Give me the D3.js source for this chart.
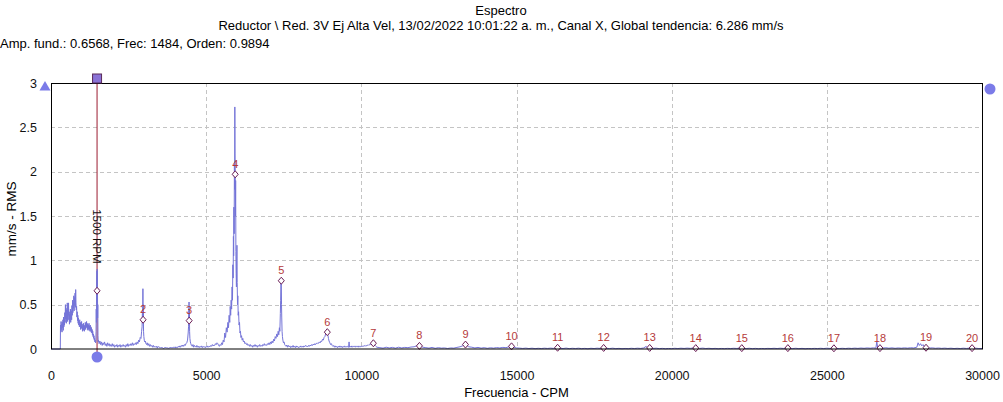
<!DOCTYPE html>
<html>
<head>
<meta charset="utf-8">
<script src="https://d3js.org/d3.v7.min.js"></script>
<style>
  body { margin: 0; background: #fff; }
  svg { font-family: 'Liberation Sans', Arial, sans-serif; }
  .grid line { stroke: #c4c4c4; stroke-dasharray: 4,3; shape-rendering: crispEdges; }
  .axis text { font-size: 12.5px; fill: #111; }
  .axis path, .axis line { display: none; }
  .hlabel { font-size: 11px; fill: #b53a3a; text-anchor: middle; }
</style>
</head>
<body>
<script>
const titleLines = ['Espectro', 'Reductor \\ Red. 3V Ej Alta Vel, 13/02/2022 10:01:22 a. m., Canal X, Global tendencia: 6.286 mm/s']
const infoLine = 'Amp. fund.: 0.6568, Frec: 1484, Orden: 0.9894'
const xTitle = 'Frecuencia - CPM'
const yTitle = 'mm/s - RMS'
const xTicks = [0, 5000, 10000, 15000, 20000, 25000, 30000]
const yTicks = [0, 0.5, 1, 1.5, 2, 2.5, 3]
const cursorCpm = 1484
const cursorLabel = '1500 RPM'

// harmonic markers (order, CPM, amplitude read at the marker)
const harmonicOrder = [1, 2, 3, 4, 5, 6, 7, 8, 9, 10, 11, 12, 13, 14, 15, 16, 17, 18, 19, 20]
const harmonicCpm = [1484, 2968, 4452, 5936, 7420, 8904, 10388, 11872, 13356, 14840,
  16324, 17808, 19292, 20776, 22260, 23744, 25228, 26712, 28196, 29680]
const harmonicAmp = [0.6568, 0.33, 0.32, 1.97, 0.77, 0.19, 0.065, 0.035, 0.05, 0.03,
  0.014, 0.012, 0.012, 0.01, 0.01, 0.01, 0.008, 0.01, 0.014, 0.01]

// spectrum [CPM, mm/s RMS]
const spectrum = [
[0,0],[300,0],[306,0.27],[315,0.2],[325,0.31],[335,0.22],[345,0.28],[355,0.19],[365,0.3],[375,0.24],[385,0.33],[395,0.21],[405,0.36],[415,0.25],[425,0.32],[435,0.27],[445,0.41],[455,0.3],[465,0.5],[475,0.34],[485,0.46],[495,0.29],[505,0.44],[515,0.36],[525,0.52],[535,0.31],[545,0.47],[555,0.38],[565,0.52],[575,0.33],[585,0.42],[595,0.28],[605,0.39],[615,0.31],[625,0.45],[635,0.3],[645,0.37],[655,0.43],[665,0.33],[675,0.49],[685,0.38],[695,0.55],[705,0.41],[715,0.52],[725,0.46],[735,0.6],[745,0.43],[755,0.58],[765,0.5],[775,0.63],[785,0.47],[795,0.67],[805,0.52],[815,0.44],[825,0.48],[835,0.36],[845,0.42],[855,0.32],[865,0.38],[875,0.29],[885,0.35],[895,0.27],[905,0.31],[915,0.25],[925,0.33],[935,0.26],[945,0.3],[955,0.22],[965,0.29],[975,0.24],[985,0.31],[995,0.23],[1005,0.28],[1015,0.2],[1025,0.26],[1035,0.22],[1045,0.29],[1055,0.21],[1065,0.27],[1075,0.2],[1085,0.26],[1095,0.23],[1105,0.3],[1115,0.22],[1125,0.28],[1135,0.24],[1145,0.31],[1155,0.25],[1165,0.29],[1175,0.22],[1185,0.28],[1195,0.21],[1205,0.27],[1215,0.23],[1225,0.29],[1235,0.22],[1245,0.26],[1255,0.2],[1265,0.27],[1275,0.21],[1285,0.25],[1295,0.19],[1305,0.24],[1315,0.18],[1325,0.22],[1335,0.16],[1345,0.2],[1355,0.14],[1365,0.17],[1375,0.12],[1385,0.15],[1395,0.1],[1405,0.12],[1415,0.08],[1425,0.1],[1435,0.07],[1445,0.09],[1452,0.2],[1458,0.45],[1464,0.3],[1470,0.7],[1476,0.5],[1480,0.88],[1484,0.66],[1488,0.9],[1492,0.6],[1496,0.82],[1502,0.35],[1508,0.5],[1514,0.15],[1522,0.08],
[1530,0.1],[1550,0.06],[1575,0.09],[1600,0.05],[1625,0.08],[1650,0.04],[1675,0.07],[1700,0.05],[1725,0.08],[1750,0.04],[1775,0.06],[1800,0.03],[1825,0.07],[1850,0.04],[1875,0.06],[1900,0.03],[1925,0.05],[1950,0.03],[1975,0.06],[2000,0.03],[2025,0.05],[2050,0.02],[2075,0.04],[2100,0.03],[2125,0.05],[2150,0.02],[2175,0.04],[2200,0.03],[2225,0.05],[2250,0.02],[2275,0.04],[2300,0.03],[2325,0.05],[2350,0.03],[2375,0.04],[2400,0.02],[2425,0.05],[2450,0.03],[2475,0.06],[2500,0.03],[2525,0.05],[2550,0.04],[2575,0.06],[2600,0.04],[2625,0.07],[2650,0.04],[2675,0.06],[2700,0.05],[2725,0.07],[2750,0.05],[2775,0.08],[2800,0.06],[2825,0.1],[2850,0.08],[2875,0.13],[2900,0.12],[2920,0.2],[2935,0.25],[2945,0.4],[2955,0.3],[2962,0.68],[2968,0.33],[2974,0.5],[2982,0.2],[2992,0.14],[3005,0.1],[3020,0.08],[3040,0.09],[3060,0.06],
[3080,0.05],[3100,0.07],[3125,0.04],[3150,0.06],[3175,0.03],[3200,0.05],[3225,0.03],[3250,0.04],[3275,0.02],[3300,0.04],[3325,0.02],[3350,0.03],[3375,0.02],[3400,0.03],[3425,0.01],[3450,0.03],[3475,0.02],[3500,0.02],[3525,0.01],[3550,0.02],[3575,0.01],[3600,0.015],[3625,0.005],[3650,0.015],[3675,0.01],[3700,0.02],[3725,0.01],[3750,0.015],[3775,0.005],[3800,0.015],[3825,0.01],[3850,0.02],[3875,0.01],[3900,0.02],[3925,0.01],[3950,0.02],[3975,0.015],[4000,0.025],[4025,0.01],[4050,0.02],[4075,0.015],[4100,0.03],[4125,0.02],[4150,0.035],[4175,0.02],[4200,0.04],[4225,0.03],[4250,0.045],[4275,0.03],[4300,0.05],[4325,0.04],[4350,0.06],[4375,0.07],[4400,0.1],[4420,0.18],[4432,0.25],[4440,0.38],[4448,0.53],[4452,0.32],[4458,0.45],[4466,0.2],[4476,0.12],[4490,0.08],[4505,0.06],
[4525,0.04],[4550,0.03],[4575,0.05],[4600,0.02],[4625,0.04],[4650,0.03],[4675,0.02],[4700,0.04],[4725,0.02],[4750,0.03],[4775,0.015],[4800,0.03],[4825,0.02],[4850,0.035],[4875,0.015],[4900,0.03],[4925,0.02],[4950,0.025],[4975,0.015],[5000,0.03],[5025,0.02],[5050,0.035],[5075,0.02],[5100,0.03],[5125,0.025],[5150,0.04],[5175,0.03],[5200,0.05],[5225,0.035],[5250,0.045],[5275,0.04],[5300,0.06],[5325,0.05],[5350,0.07],[5375,0.06],
[5400,0.04],[5425,0.03],[5450,0.05],[5475,0.04],[5500,0.07],[5525,0.05],[5550,0.1],[5575,0.08],[5600,0.18],[5625,0.13],[5650,0.24],[5675,0.19],[5700,0.3],[5720,0.24],[5740,0.38],[5760,0.3],[5775,0.48],[5790,0.38],[5805,0.55],[5820,0.45],[5835,0.7],[5848,0.55],[5860,0.95],[5870,0.8],[5878,1.27],[5886,1.05],[5894,1.6],[5902,1.3],[5910,2.1],[5917,1.8],[5924,2.73],[5930,2.2],[5936,1.97],[5943,1.5],[5950,1.9],[5958,1.1],[5966,0.85],[5975,0.7],[5984,1.0],[5992,1.17],[6000,0.75],[6010,0.5],[6020,0.6],[6032,0.38],[6045,0.42],[6060,0.27],[6075,0.3],[6090,0.18],[6105,0.2],[6120,0.13],[6140,0.15],[6160,0.1],[6180,0.12],[6200,0.08],[6225,0.09],[6250,0.06],[6275,0.07],[6300,0.05],
[6325,0.06],[6350,0.04],[6375,0.05],[6400,0.03],[6425,0.05],[6450,0.03],[6475,0.04],[6500,0.02],[6525,0.04],[6550,0.03],[6575,0.05],[6600,0.03],[6625,0.04],[6650,0.02],[6675,0.04],[6700,0.03],[6725,0.05],[6750,0.03],[6775,0.04],[6800,0.03],[6825,0.05],[6850,0.04],[6875,0.06],[6900,0.04],[6925,0.05],[6950,0.04],[6975,0.06],[7000,0.05],[7025,0.07],[7050,0.05],[7075,0.08],[7100,0.06],[7125,0.09],[7150,0.07],[7175,0.11],[7200,0.09],[7225,0.14],[7250,0.12],[7275,0.17],[7300,0.14],[7320,0.2],[7340,0.16],[7360,0.24],[7375,0.2],[7390,0.4],[7400,0.55],[7410,0.78],[7420,0.77],[7428,0.5],[7436,0.35],[7446,0.2],[7458,0.14],[7472,0.1],[7490,0.07],[7510,0.08],[7530,0.05],
[7550,0.04],[7575,0.03],[7600,0.045],[7625,0.02],[7650,0.04],[7675,0.025],[7700,0.035],[7725,0.015],[7750,0.03],[7775,0.02],[7800,0.04],[7825,0.02],[7850,0.03],[7875,0.015],[7900,0.035],[7925,0.02],[7950,0.03],[7975,0.015],[8000,0.025],[8025,0.02],[8050,0.035],[8075,0.02],[8100,0.03],[8125,0.02],[8150,0.035],[8175,0.025],[8200,0.04],[8225,0.03],[8250,0.035],[8275,0.025],[8300,0.04],[8325,0.03],[8350,0.045],[8375,0.035],[8400,0.05],[8425,0.04],[8450,0.055],[8475,0.045],[8500,0.06],[8525,0.05],[8550,0.065],[8575,0.06],[8600,0.07],[8625,0.065],[8650,0.08],[8675,0.07],[8700,0.09],[8725,0.085],[8750,0.11],[8775,0.1],[8800,0.13],[8825,0.14],[8850,0.17],[8870,0.19],[8890,0.21],[8905,0.19],[8920,0.16],[8940,0.12],[8960,0.09],[8985,0.07],[9010,0.05],[9035,0.06],[9060,0.04],
[9085,0.03],[9110,0.04],[9135,0.02],[9160,0.035],[9185,0.02],[9210,0.03],[9235,0.015],[9260,0.03],[9285,0.02],[9310,0.035],[9335,0.02],[9360,0.03],[9385,0.015],[9410,0.03],[9435,0.02],[9460,0.035],[9485,0.02],[9510,0.03],[9535,0.02],[9560,0.03],[9590,0.02],[9605,0.08],[9620,0.02],[9645,0.03],[9670,0.02],[9695,0.035],[9720,0.02],[9745,0.03],[9770,0.025],[9795,0.035],[9820,0.02],[9845,0.03],[9870,0.025],[9895,0.035],[9920,0.02],[9945,0.03],[9970,0.025],[9995,0.035],[10020,0.025],[10045,0.035],[10070,0.03],[10095,0.04],[10120,0.03],[10145,0.04],[10170,0.035],[10195,0.045],[10220,0.04],[10245,0.05],[10270,0.045],[10295,0.055],[10320,0.06],[10345,0.065],[10370,0.07],[10395,0.065],[10420,0.05],[10445,0.04],[10470,0.03],[10500,0.02],
[10600,0.015],[10700,0.01],[10800,0.02],[10900,0.012],[11000,0.018],[11100,0.01],[11200,0.02],[11300,0.012],[11400,0.018],[11500,0.015],[11600,0.022],[11700,0.025],[11780,0.035],[11840,0.04],[11880,0.045],[11920,0.03],[11980,0.02],[12080,0.015],[12180,0.01],[12280,0.018],[12380,0.008],[12480,0.015],[12580,0.01],[12680,0.012],[12780,0.006],[12880,0.012],[12980,0.01],[13080,0.018],[13180,0.025],[13260,0.035],[13320,0.05],[13360,0.055],[13400,0.04],[13460,0.025],[13560,0.02],[13660,0.012],[13760,0.018],[13860,0.01],[13960,0.015],[14060,0.008],[14160,0.014],[14260,0.01],[14360,0.016],[14460,0.012],[14560,0.018],[14660,0.015],[14760,0.025],[14820,0.03],[14860,0.035],[14920,0.02],[15000,0.012],[15100,0.01],[15200,0.006],[15300,0.01],[15400,0.005],[15500,0.009],[15600,0.004],[15700,0.008],[15800,0.005],[15900,0.009],[16000,0.006],
[16100,0.01],[16200,0.006],[16300,0.015],[16400,0.008],[16500,0.005],[16600,0.01],[16700,0.004],[16800,0.008],[16900,0.005],[17000,0.009],[17100,0.004],[17200,0.007],[17300,0.003],[17400,0.008],[17500,0.005],[17600,0.009],[17700,0.006],[17800,0.012],[17900,0.007],[18000,0.005],[18100,0.009],[18200,0.004],[18300,0.007],[18400,0.003],[18500,0.006],[18600,0.004],[18700,0.008],[18800,0.005],[18900,0.009],[19000,0.006],[19100,0.012],[19180,0.03],[19220,0.01],[19300,0.012],[19400,0.006],[19500,0.009],[19600,0.004],[19700,0.007],[19800,0.003],[19900,0.006],[20000,0.004],[20100,0.008],[20200,0.005],[20300,0.009],[20400,0.006],[20500,0.01],[20600,0.007],[20700,0.011],[20800,0.008],[20900,0.006],[21000,0.01],[21100,0.005],[21200,0.008],[21300,0.004],[21400,0.007],[21500,0.003],[21600,0.006],[21700,0.004],[21800,0.007],[21900,0.005],[22000,0.008],[22100,0.006],[22200,0.01],[22300,0.007],[22400,0.005],[22500,0.008],[22600,0.004],[22700,0.007],[22800,0.003],[22900,0.006],[23000,0.004],[23100,0.007],[23200,0.005],[23300,0.008],[23400,0.005],[23500,0.009],[23600,0.006],[23700,0.01],[23800,0.007],[23900,0.005],[24000,0.008],[24100,0.004],[24200,0.007],[24300,0.003],[24400,0.006],[24500,0.004],[24600,0.007],[24700,0.005],[24800,0.008],[24900,0.005],[25000,0.009],[25100,0.006],[25200,0.01],[25300,0.007],[25400,0.005],[25500,0.008],[25600,0.005],[25700,0.009],[25800,0.006],[25900,0.01],[26000,0.007],[26100,0.011],[26200,0.008],[26300,0.012],[26400,0.009],[26500,0.013],[26580,0.01],[26610,0.08],[26640,0.012],[26700,0.015],[26800,0.01],[26900,0.014],[27000,0.009],[27100,0.013],[27200,0.008],[27300,0.012],[27400,0.009],[27500,0.013],[27600,0.01],[27700,0.014],[27800,0.012],[27900,0.02],[27940,0.07],[27980,0.04],[28020,0.06],[28060,0.035],[28100,0.05],[28150,0.02],[28200,0.015],[28300,0.01],[28400,0.013],[28500,0.008],[28600,0.011],[28700,0.007],[28800,0.01],[28900,0.006],[29000,0.009],[29100,0.005],[29200,0.008],[29300,0.005],[29400,0.009],[29500,0.006],[29600,0.01],[29700,0.007],[29800,0.009],[29900,0.005],[30000,0.006]
]

const W = 1003, H = 402
const margin = {top: 83, right: 21, bottom: 53, left: 51}
const width = W - margin.left - margin.right,
      height = H - margin.top - margin.bottom

const root = d3.select('body').append('svg')
    .attr('width', W)
    .attr('height', H)

// titles
root.append('text').attr('x', 501).attr('y', 14.5).attr('text-anchor', 'middle')
    .style('font-size', '13px').text(titleLines[0])
root.append('text').attr('x', 501).attr('y', 30).attr('text-anchor', 'middle')
    .style('font-size', '13px').text(titleLines[1])
root.append('text').attr('x', 0).attr('y', 47.5)
    .style('font-size', '13px').text(infoLine)

const svg = root.append('g')
    .attr('transform', 'translate(' + margin.left + ',' + margin.top + ')')

const x = d3.scaleLinear().domain([0, 30000]).range([0, width])
const y = d3.scaleLinear().domain([0, 3]).range([height, 0])

// grid
const grid = svg.append('g').attr('class', 'grid')
grid.selectAll('line.v')
    .data(xTicks.slice(1, -1))
    .enter().append('line')
    .attr('x1', d => Math.round(x(d)) + 0.5).attr('x2', d => Math.round(x(d)) + 0.5)
    .attr('y1', 0).attr('y2', height)
grid.selectAll('line.h')
    .data(yTicks.slice(1, -1))
    .enter().append('line')
    .attr('y1', d => Math.round(y(d)) + 0.5).attr('y2', d => Math.round(y(d)) + 0.5)
    .attr('x1', 0).attr('x2', width)

// axes (labels only)
svg.append('g').attr('class', 'axis')
    .call(d3.axisLeft(y).tickValues(yTicks).tickSize(0).tickPadding(14).tickFormat(d3.format('~g')))
svg.append('g').attr('class', 'axis')
    .attr('transform', 'translate(0,' + height + ')')
    .call(d3.axisBottom(x).tickValues(xTicks).tickSize(0).tickPadding(22).tickFormat(d3.format('d')))

root.append('text')
    .attr('x', margin.left + width / 2).attr('y', 396.5)
    .attr('text-anchor', 'middle').style('font-size', '13px')
    .text(xTitle)
root.append('text')
    .attr('transform', 'translate(16,' + (margin.top + height / 2 + 3) + ') rotate(-90)')
    .attr('text-anchor', 'middle').style('font-size', '13.5px')
    .text(yTitle)

// cursor line
const cx = x(cursorCpm)
svg.append('line')
    .attr('x1', cx).attr('x2', cx)
    .attr('y1', -5).attr('y2', height + 8)
    .style('stroke', '#9b1b30').style('stroke-width', 1)

// spectrum
const line = d3.line().x(d => x(d[0])).y(d => y(d[1]))
svg.append('path')
    .datum(spectrum)
    .attr('d', line)
    .style('fill', 'none')
    .style('stroke', '#7474d8')
    .style('stroke-width', 1)

// cursor text
svg.append('text')
    .attr('transform', 'translate(' + (cx - 4) + ',' + (y(1.27)) + ') rotate(90)')
    .attr('text-anchor', 'middle')
    .style('font-size', '11.5px').style('fill', '#111')
    .text(cursorLabel)

// harmonic markers
const harmonics = harmonicOrder.map((o, i) => ({order: o, cpm: harmonicCpm[i], amp: harmonicAmp[i]}))
const mk = svg.append('g').attr('class', 'markers')
mk.selectAll('path')
    .data(harmonics)
    .enter().append('path')
    .attr('transform', d => 'translate(' + x(d.cpm) + ',' + y(d.amp) + ')')
    .attr('d', 'M0,-3.5L3,0L0,3.5L-3,0Z')
    .style('fill', '#fff').style('stroke', '#6a1d55').style('stroke-width', 1)
mk.selectAll('text')
    .data(harmonics.filter(d => d.order > 1))
    .enter().append('text')
    .attr('class', 'hlabel')
    .attr('x', d => x(d.cpm))
    .attr('y', d => y(d.amp) - 6.5)
    .text(d => d.order)

// frame
svg.append('rect')
    .attr('x', 0.5).attr('y', 0.5)
    .attr('width', width).attr('height', height - 0.5)
    .style('fill', 'none').style('stroke', '#000').style('stroke-width', 1)

// cursor handles
svg.append('rect')
    .attr('x', cx - 4.5).attr('y', -9)
    .attr('width', 9).attr('height', 9)
    .style('fill', '#8a72d6').style('stroke', '#5a2a5a').style('stroke-width', 1)
svg.append('circle')
    .attr('cx', cx).attr('cy', height + 8).attr('r', 5.5)
    .style('fill', '#7b7be8')
svg.append('path')
    .attr('transform', 'translate(-6,' + 3 + ')')
    .attr('d', 'M0,-5L5.5,4.5L-5.5,4.5Z')
    .style('fill', '#7b7be8')
svg.append('circle')
    .attr('cx', width + 8).attr('cy', 6).attr('r', 5.5)
    .style('fill', '#7b7be8')
</script>
</body>
</html>
